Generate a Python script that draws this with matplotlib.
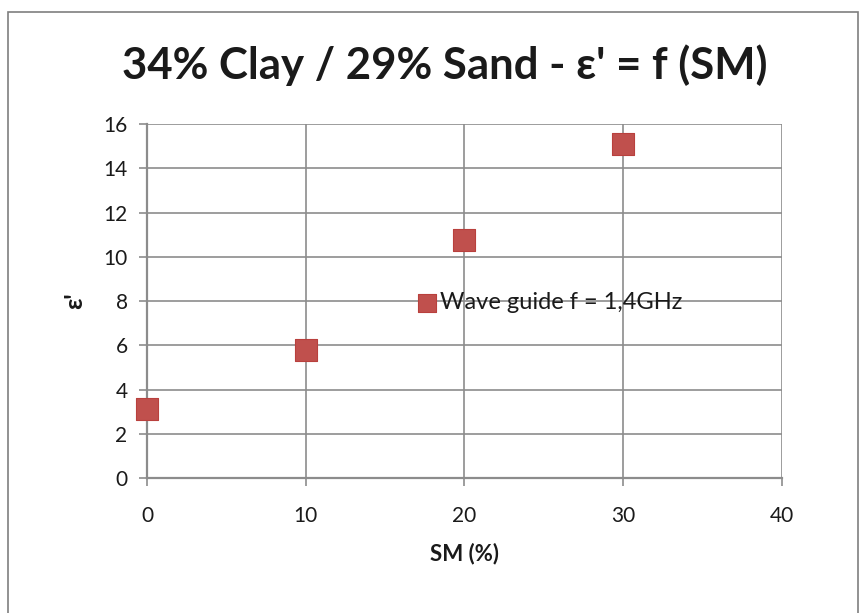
import matplotlib
matplotlib.use("Agg")
import matplotlib.pyplot as plt
from matplotlib.patches import Rectangle

# ── Data ──────────────────────────────────────────────────────────────────────
sm_pct = [0, 10, 20, 30]
eps_real = [3.1, 5.8, 10.75, 15.1]
series_label = "Wave guide f = 1,4GHz"

TITLE = "34% Clay / 29% Sand - ε' = f (SM)"
X_LABEL = "SM (%)"
Y_LABEL = "ε'"

# ── Style ─────────────────────────────────────────────────────────────────────
RED = "#C0504D"
RED_ED = "#B9403D"
GRID = "#8C8C8C"
TXT = "#1A1A1A"
plt.rcParams["font.family"] = ["Lato", "DejaVu Sans"]

fig = plt.figure(figsize=(8.61, 6.13), dpi=100)
fig.patch.set_facecolor("white")
# outer chart border
fig.patches.append(Rectangle((0.009, -0.01), 0.987, 0.99, transform=fig.transFigure,
                             fill=False, edgecolor="#7F7F7F", lw=1.2))

ax = fig.add_axes([0.1707, 0.2202, 0.7375, 0.5775])
ax.scatter(sm_pct, eps_real, marker="s", s=260, color=RED, edgecolor=RED_ED,
           linewidth=0.8, zorder=5, label=series_label, clip_on=False)

ax.set_xlim(0, 40)
ax.set_ylim(0, 16)
ax.set_xticks(range(0, 41, 10))
ax.set_yticks(range(0, 17, 2))
ax.grid(True, color=GRID, lw=1.2)
ax.set_axisbelow(True)
for side in ("top", "right"):
    ax.spines[side].set_visible(False)
for side in ("left", "bottom"):
    ax.spines[side].set_color(GRID)
    ax.spines[side].set_linewidth(1.6)
ax.tick_params(axis="both", direction="out", length=6, width=1.2, color=GRID,
               labelsize=15, labelcolor=TXT, pad=8)
ax.tick_params(axis="x", pad=14)

ax.set_xlabel(X_LABEL, fontsize=16, fontweight="bold", color=TXT, labelpad=12)
ax.set_ylabel(Y_LABEL, fontsize=18, fontweight="bold", color=TXT, labelpad=12)

fig.text(0.517, 0.893, TITLE, ha="center", va="center", fontsize=31.5,
         fontweight="bold", color=TXT)

leg = ax.legend(loc="center left", bbox_to_anchor=(0.405, 0.495), frameon=False,
                fontsize=17, handletextpad=0.0, borderaxespad=0, markerscale=0.8,
                handlelength=1.1)
for t in leg.get_texts():
    t.set_color(TXT)

fig.savefig("out.png", dpi=100, facecolor="white")
